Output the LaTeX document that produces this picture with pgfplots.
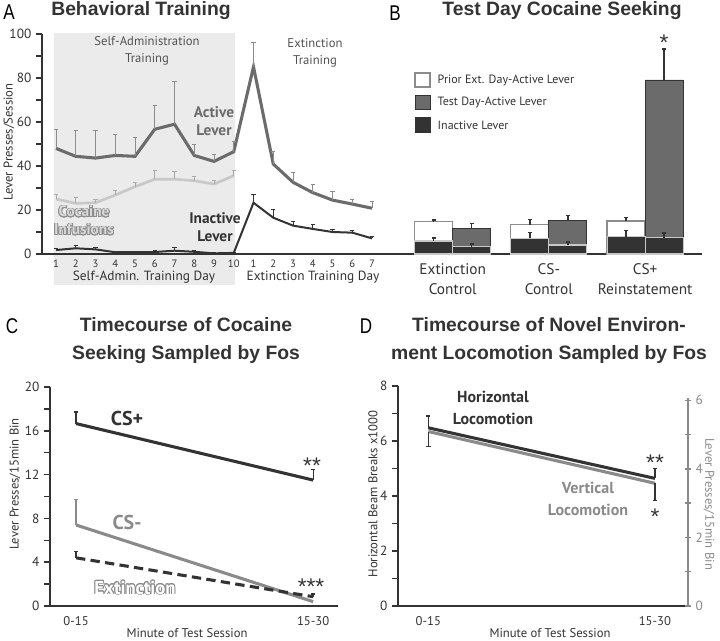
\documentclass[border=0pt]{standalone}
\usepackage{fontspec}
\setmainfont{PT Sans}
\newfontfamily\titlefont{Liberation Sans}
\newfontfamily\letterfont[FakeStretch=0.8]{Liberation Sans}
\usepackage{pgfplots}
\pgfplotsset{compat=1.18}
\usepackage{contour}
\contourlength{0.6pt}

\definecolor{dk}{HTML}{333333}
\definecolor{act}{HTML}{6B6B6B}
\definecolor{coc}{HTML}{C8C8C8}
\definecolor{bgshade}{HTML}{EBEBEB}
\definecolor{csm}{HTML}{8A8A8A}
\definecolor{errg}{HTML}{8C8C8C}

\pgfplotsset{
  panel/.style={
    scale only axis, anchor=south west, clip=false,
    axis x line=bottom, axis y line=left,
    axis line style={dk, line width=1.9pt, -},
    tick style={dk, line width=1.1pt},
    tick align=outside, major tick length=4.5pt,
    x tick style={draw=none},
    tick label style={text=dk},
    y tick label style={font=\fontsize{10}{10}\selectfont},
  },
  ebar/.style={error bars/.cd, y dir=plus, y explicit,
    error bar style={line width=0.6pt, #1},
    error mark options={rotate=90, mark size=1.6pt, line width=0.6pt, #1}},
}

\begin{document}
\begin{tikzpicture}[x=0.75pt, y=-0.75pt]
\useasboundingbox (0,0) rectangle (720,641);

% ---------- A ----------
\fill[bgshade] (54,33) rectangle (235,285);

\begin{axis}[panel, at={(31.5pt,-190.5pt)}, width=253.5pt, height=165pt,
  xmin=-0.709, xmax=16.405, ymin=0, ymax=100,
  xtick={0,...,16}, xticklabels={1,2,3,4,5,6,7,8,9,10,1,2,3,4,5,6,7},
  x tick label style={font=\fontsize{8}{8}\selectfont, inner sep=1pt, yshift=1.5pt},
  ytick={0,10,...,100}, yticklabels={0,,20,,40,,60,,80,,100}]
  \addplot[coc, line width=2pt, ebar={coc!85!black}] coordinates {
    (0,25) +- (0,2.3) (1,23) +- (0,2.8) (2,23.3) +- (0,1.5) (3,26.8) +- (0,2.2)
    (4,30.6) +- (0,1.8) (5,34) +- (0,4.2) (6,34) +- (0,3.4) (7,33.3) +- (0,1.9)
    (8,31.8) +- (0,1.5) (9,35.6) +- (0,2.4)};
  \addplot[act, line width=2.3pt, ebar={errg}] coordinates {
    (0,48) +- (0,8.7) (1,44.4) +- (0,11.6) (2,43.6) +- (0,12.4) (3,44.8) +- (0,9.6)
    (4,44.4) +- (0,8.5) (5,56.7) +- (0,10.9) (6,59) +- (0,19.3) (7,44.8) +- (0,5)
    (8,42.1) +- (0,3.1) (9,46.5) +- (0,4.5) (10,85.1) +- (0,10.9) (11,40.9) +- (0,5.6)
    (12,32.6) +- (0,4.4) (13,27.9) +- (0,3.9) (14,24.5) +- (0,3.8) (15,22.7) +- (0,2.1)
    (16,20.8) +- (0,3.3)};
  \addplot[dk, line width=1.5pt, ebar={dk}] coordinates {
    (0,1.8) +- (0,0.6) (1,2.6) +- (0,1.2) (2,2.1) +- (0,0.8) (3,0.8) +- (0,0.5)
    (4,0.9) +- (0,0.5) (5,0.9) +- (0,0.6) (6,1.5) +- (0,1.7) (7,1) +- (0,0.5)
    (8,0.3) +- (0,0.3) (9,0.5) +- (0,0.3) (10,23.3) +- (0,3.8) (11,16.5) +- (0,3.8)
    (12,12.9) +- (0,1.8) (13,11.4) +- (0,2.1) (14,10) +- (0,1.2) (15,9.7) +- (0,1.2)
    (16,7.1) +- (0,1.1)};
\end{axis}

\node[font=\letterfont\fontsize{16}{16}\selectfont] at (9,12) {A};
\node[font=\titlefont\bfseries\fontsize{14.5}{15}\selectfont, text=dk] at (141,11) {Behavioral Training};
\node[rotate=90, font=\fontsize{9.5}{10}\selectfont, text=dk] at (9,142) {Lever Presses/Session};
\node[align=center, font=\fontsize{9.5}{12.5}\selectfont, text=dk!85] at (147,51) {Self-Administration\\Training};
\node[align=center, font=\fontsize{9.5}{12.5}\selectfont, text=dk!85] at (315,53) {Extinction\\Training};
\node[align=center, font=\bfseries\fontsize{11.5}{13.5}\selectfont, text=act] at (214,121) {Active\\Lever};
\node[align=center, font=\bfseries\fontsize{11.5}{13.5}\selectfont, text=dk] at (215,227) {Inactive\\Lever};
\node[align=center, font=\bfseries\fontsize{11.5}{13.5}\selectfont, text=coc!70!white] at (84,221) {\contour{errg}{Cocaine}\\\contour{errg}{Infusions}};
\node[inner sep=1pt, font=\fontsize{10}{10}\selectfont, text=dk] at (144,277) {Self-Admin. Training Day};
\node[inner sep=1pt, font=\fontsize{10}{10}\selectfont, text=dk] at (313,277) {Extinction Training Day};

% ---------- B ----------
\begin{axis}[panel, at={(285pt,-190.5pt)}, width=241.5pt, height=165pt,
  axis y line=none,
  xmin=-0.756, xmax=2.592, ymin=0, ymax=100,
  xtick={0,1,2}, xticklabels={Extinction\\Control, CS-\\Control, CS+\\Reinstatement},
  x tick label style={font=\fontsize{11.5}{15}\selectfont, align=center, yshift=1pt}]
  \addplot[ybar, bar width=28.5pt, bar shift=0pt, fill=white, draw=errg, line width=0.9pt, ebar={dk, line width=1pt}]
    coordinates {(-0.1975,14.7) +- (0,0.8) (0.8025,13.3) +- (0,2.5) (1.8025,15) +- (0,1.7)};
  \addplot[ybar, bar width=28.5pt, bar shift=0pt, fill=act, draw=dk, line width=0.6pt, ebar={dk, line width=1pt}]
    coordinates {(0.1975,11.7) +- (0,2.2) (1.1975,15.2) +- (0,2.4) (2.1975,79.1) +- (0,14.1)};
  \addplot[ybar, bar width=28.5pt, bar shift=0pt, fill=dk, draw=coc, line width=0.8pt, ebar={dk, line width=1pt}]
    coordinates {(-0.1975,5.9) +- (0,1.4) (0.8025,7.1) +- (0,2.6) (1.8025,7.9) +- (0,2.9)};
  \addplot[ybar, bar width=28.5pt, bar shift=0pt, fill=dk, draw=coc, line width=0.8pt, ebar={dk, line width=1pt}]
    coordinates {(0.1975,3.3) +- (0,1.2) (1.1975,4.1) +- (0,1.4) (2.1975,7.3) +- (0,2.2)};
\end{axis}

\node[font=\letterfont\fontsize{16}{16}\selectfont] at (395,13) {B};
\node[font=\titlefont\bfseries\fontsize{14.5}{15}\selectfont, text=dk] at (562,11) {Test Day Cocaine Seeking};
\node[font=\titlefont\fontsize{17}{17}\selectfont, text=dk] at (664,43) {*};
\draw[errg, line width=0.8pt, fill=white] (415,73) rectangle (430,87);
\draw[dk, line width=0.5pt, fill=act] (415,95) rectangle (430,109);
\draw[dk, line width=0.5pt, fill=dk] (415,117) rectangle (430,132);
\begin{scope}[every node/.style={anchor=west, font=\fontsize{9}{9}\selectfont, text=dk}]
  \node at (433,80) {Prior Ext. Day-Active Lever};
  \node at (433,102) {Test Day-Active Lever};
  \node at (433,125) {Inactive Lever};
\end{scope}

% ---------- C ----------
\begin{axis}[panel, at={(37.5pt,-454.5pt)}, width=216pt, height=164.25pt,
  xmin=-0.11, xmax=1.105, ymin=0, ymax=20,
  xtick={0,1}, xticklabels={0-15,15-30},
  x tick label style={font=\fontsize{9.5}{10}\selectfont},
  ytick={0,2,...,20}, yticklabels={0,,4,,8,,12,,16,,20}]
  \addplot[dk, line width=2.3pt, ebar={dk, line width=0.9pt}] coordinates {(0,16.66) +- (0,1.05) (1,11.5) +- (0,1.0)};
  \addplot[csm, line width=2.3pt, ebar={csm, line width=0.9pt}] coordinates {(0,7.4) +- (0,2.35) (1,0.4)};
  \addplot[dk, line width=2.3pt, dash pattern=on 7pt off 4pt, ebar={dk, line width=0.9pt, solid}] coordinates {(0,4.4) +- (0,0.6) (1,0.85) +- (0,0.25)};
\end{axis}

\node[font=\letterfont\fontsize{16}{16}\selectfont] at (12,326) {C};
\node[align=center, font=\titlefont\bfseries\fontsize{14.5}{21.5}\selectfont, text=dk] at (186,340.5) {Timecourse of Cocaine\\Seeking Sampled by Fos};
\node[rotate=90, font=\fontsize{9.5}{10}\selectfont, text=dk] at (15,484) {Lever Presses/15min Bin};
\node[font=\fontsize{9.5}{10}\selectfont, text=dk] at (187,633) {Minute of Test Session};
\node[font=\bfseries\fontsize{15}{15}\selectfont, text=dk] at (127,418) {CS+};
\node[font=\bfseries\fontsize{15}{15}\selectfont, text=csm] at (127,522) {CS-};
\node[font=\bfseries\fontsize{14}{14}\selectfont, text=white] at (135,588) {\contour{csm}{Extinction}};
\node[font=\titlefont\fontsize{17}{17}\selectfont, text=dk] at (312,466) {**};
\node[font=\titlefont\fontsize{17}{17}\selectfont, text=dk] at (311,587) {***};

% ---------- D ----------
\begin{axis}[panel, at={(298.5pt,-454.5pt)}, width=217.5pt, height=165pt,
  xmin=-0.134, xmax=1.146, ymin=0, ymax=8,
  xtick={0,1}, xticklabels={0-15,15-30},
  x tick label style={font=\fontsize{9.5}{10}\selectfont},
  ytick={0,...,8}, yticklabels={0,,2,,4,,6,,8}]
  \addplot[dk, line width=2.3pt, ebar={dk, line width=0.9pt}] coordinates {(0,6.48) +- (0,0.43) (1,4.64) +- (0,0.36)};
\end{axis}
\begin{axis}[panel, at={(298.5pt,-454.5pt)}, width=217.5pt, height=155.8pt,
  axis x line=none, axis y line=right,
  axis line style={csm, line width=1.9pt, -},
  y tick style={csm, line width=1.1pt},
  y tick label style={text=csm},
  xmin=-0.134, xmax=1.146, ymin=0, ymax=6.06,
  ytick={0,...,6}, yticklabels={0,,2,,4,,6}]
  \addplot[csm, line width=2.3pt, error bars/.cd, y dir=minus, y explicit,
    error bar style={line width=0.9pt, dk},
    error mark options={rotate=90, mark size=1.6pt, line width=0.9pt, dk}]
    coordinates {(0,5.09) +- (0,0.44) (1,3.58) +- (0,0.51)};
\end{axis}

\node[font=\letterfont\fontsize{16}{16}\selectfont] at (366,326) {D};
\node[align=center, font=\titlefont\bfseries\fontsize{14.5}{21.5}\selectfont, text=dk] at (549,340.5) {Timecourse of Novel Environ-\\ment Locomotion Sampled by Fos};
\node[rotate=90, font=\fontsize{9.5}{10}\selectfont, text=dk] at (373,494) {Horizontal Beam Breaks x1000};
\node[rotate=-90, font=\fontsize{9.5}{10}\selectfont, text=csm] at (709,504) {Lever Presses/15min Bin};
\node[font=\fontsize{9.5}{10}\selectfont, text=dk] at (550,633) {Minute of Test Session};
\node[align=center, font=\bfseries\fontsize{12}{16}\selectfont, text=dk] at (493,408) {Horizontal\\Locomotion};
\node[align=center, font=\bfseries\fontsize{12}{16}\selectfont, text=csm] at (588,499) {Vertical\\Locomotion};
\node[font=\titlefont\fontsize{17}{17}\selectfont, text=dk] at (655,463) {**};
\node[font=\titlefont\fontsize{17}{17}\selectfont, text=dk] at (655,517) {*};
\end{tikzpicture}
\end{document}
